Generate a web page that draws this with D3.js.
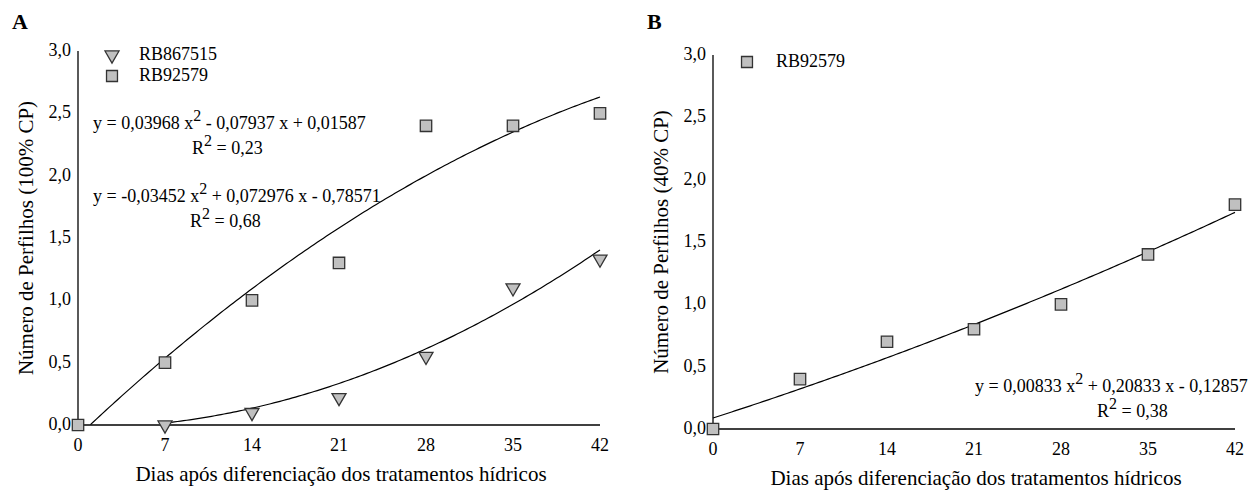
<!DOCTYPE html>
<html>
<head>
<meta charset="utf-8">
<script src="https://cdn.jsdelivr.net/npm/d3@7"></script>
<style>
  body { margin: 0; background: #fff; }
  svg text { font-family: "Liberation Serif", "Times New Roman", serif; }
</style>
</head>
<body>
<svg width="1255" height="495"></svg>
<script>
// days after treatment differentiation
var days = [0, 7, 14, 21, 28, 35, 42];
var yTicks = [0, 0.5, 1, 1.5, 2, 2.5, 3];

// panel A (100% CP)
var rb92579A = [0, 0.5, 1.0, 1.3, 2.4, 2.4, 2.5];
var rb867515Days = [7, 14, 21, 28, 35, 42];
var rb867515A = [0, 0.1, 0.22, 0.55, 1.1, 1.33];

// panel B (40% CP)
var rb92579B = [0, 0.4, 0.7, 0.8, 1.0, 1.4, 1.8];

// trendline coefficients [a, b, c] for y = a*x^2 + b*x + c, x = point index (1..7)
var fitA92579 = [-0.03452, 0.72976, -0.78571];
var fitA867515 = [0.03968, -0.07937, 0.01587];
var fitB92579 = [0.00833, 0.20833, -0.12857];

var svg = d3.select("svg");
var fmt = d => d3.format(".1f")(d).replace(".", ",");
var FS = 18;

function poly(c, d) {
  var x = d / 7 + 1;
  return c[0] * x * x + c[1] * x + c[2];
}

function drawPanel(opt) {
  var x = d3.scaleLinear().domain([0, 42]).range([opt.left, opt.left + 522]);
  var y = d3.scaleLinear().domain([0, 3]).range([opt.bottom, opt.bottom - 374]);
  var g = svg.append("g");

  // axes (no tick marks)
  g.append("line").attr("x1", x(0)).attr("x2", x(0)).attr("y1", y(3)).attr("y2", y(0))
    .attr("stroke", "#000").attr("stroke-width", 1.3);
  g.append("line").attr("x1", x(0)).attr("x2", x(42)).attr("y1", y(0)).attr("y2", y(0))
    .attr("stroke", "#000").attr("stroke-width", 1.3);

  g.selectAll(".yt").data(yTicks).join("text")
    .attr("x", x(0) - 7).attr("y", d => y(d) + 5)
    .attr("text-anchor", "end").attr("font-size", FS).text(fmt);
  g.selectAll(".xt").data(days).join("text")
    .attr("x", d => x(d)).attr("y", y(0) + 26)
    .attr("text-anchor", "middle").attr("font-size", FS).text(d => d);

  g.append("text").attr("x", (x(0) + x(42)) / 2 + 2).attr("y", y(0) + 56)
    .attr("text-anchor", "middle").attr("font-size", 21)
    .text("Dias após diferenciação dos tratamentos hídricos");
  g.append("text")
    .attr("transform", `translate(${x(0) - 45},${y(1.5)}) rotate(-90)`)
    .attr("text-anchor", "middle").attr("font-size", 21).text(opt.ylabel);

  g.append("text").attr("x", opt.left - 66).attr("y", 29)
    .attr("font-size", 22).attr("font-weight", "bold").text(opt.letter);

  var line = d3.line().x(d => x(d[0])).y(d => y(d[1]));
  opt.fits.forEach(f => {
    var pts = d3.range(f.from, 42.001, 0.25).map(d => [d, poly(f.c, d)]).filter(p => p[1] >= 0);
    g.append("path").attr("d", line(pts)).attr("fill", "none")
      .attr("stroke", "#000").attr("stroke-width", 1.2);
  });

  opt.series.forEach(s => {
    var sym = d3.symbol().type(s.type === "tri" ? d3.symbolTriangle : d3.symbolSquare)
      .size(s.type === "tri" ? 85 : 130);
    g.selectAll(null).data(s.xs.map((d, i) => [d, s.ys[i]])).join("path")
      .attr("d", sym)
      .attr("transform", d => `translate(${x(d[0])},${y(d[1])})` + (s.type === "tri" ? " rotate(180)" : ""))
      .attr("fill", "#c0c0c0").attr("stroke", "#333").attr("stroke-width", 1.3);
  });

  // legend
  opt.legend.forEach((l, i) => {
    var ly = opt.legendY + i * 21;
    var sym = d3.symbol().type(l.type === "tri" ? d3.symbolTriangle : d3.symbolSquare)
      .size(l.type === "tri" ? 85 : 120);
    g.append("path").attr("d", sym)
      .attr("transform", `translate(${opt.left + 34},${ly})` + (l.type === "tri" ? " rotate(180)" : ""))
      .attr("fill", "#c0c0c0").attr("stroke", "#333").attr("stroke-width", 1.3);
    g.append("text").attr("x", opt.left + l.dx).attr("y", ly + 5)
      .attr("font-size", FS).text(l.name);
  });

  // equation labels
  opt.eqs.forEach(e => {
    var t = g.append("text").attr("x", e.x).attr("y", e.y).attr("font-size", FS);
    t.append("tspan").text(e.parts[0]);
    t.append("tspan").attr("dy", -8).attr("font-size", 16).text("2");
    t.append("tspan").attr("dy", 8).text(e.parts[1]);
    var r = g.append("text").attr("x", e.rx).attr("y", e.y + 25).attr("font-size", FS);
    r.append("tspan").text("R");
    r.append("tspan").attr("dy", -8).attr("font-size", 16).text("2");
    r.append("tspan").attr("dy", 8).text(" = " + e.r2);
  });
}

drawPanel({
  left: 78, bottom: 425, letter: "A", ylabel: "Número de Perfilhos (100% CP)",
  fits: [{ c: fitA92579, from: 0 }, { c: fitA867515, from: 7 }],
  series: [
    { type: "sq", xs: days, ys: rb92579A },
    { type: "tri", xs: rb867515Days, ys: rb867515A }
  ],
  legendY: 55,
  legend: [{ type: "tri", name: "RB867515", dx: 61 }, { type: "sq", name: "RB92579", dx: 61 }],
  eqs: [
    { x: 93, y: 129, parts: ["y = 0,03968 x", " - 0,07937 x + 0,01587"], rx: 192, r2: "0,23" },
    { x: 93, y: 202, parts: ["y = -0,03452 x", " + 0,072976 x - 0,78571"], rx: 190, r2: "0,68" }
  ]
});

drawPanel({
  left: 713, bottom: 429, letter: "B", ylabel: "Número de Perfilhos (40% CP)",
  fits: [{ c: fitB92579, from: 0 }],
  series: [{ type: "sq", xs: days, ys: rb92579B }],
  legendY: 62,
  legend: [{ type: "sq", name: "RB92579", dx: 63 }],
  eqs: [
    { x: 975, y: 392, parts: ["y = 0,00833 x", " + 0,20833 x - 0,12857"], rx: 1097, r2: "0,38" }
  ]
});
</script>
</body>
</html>
